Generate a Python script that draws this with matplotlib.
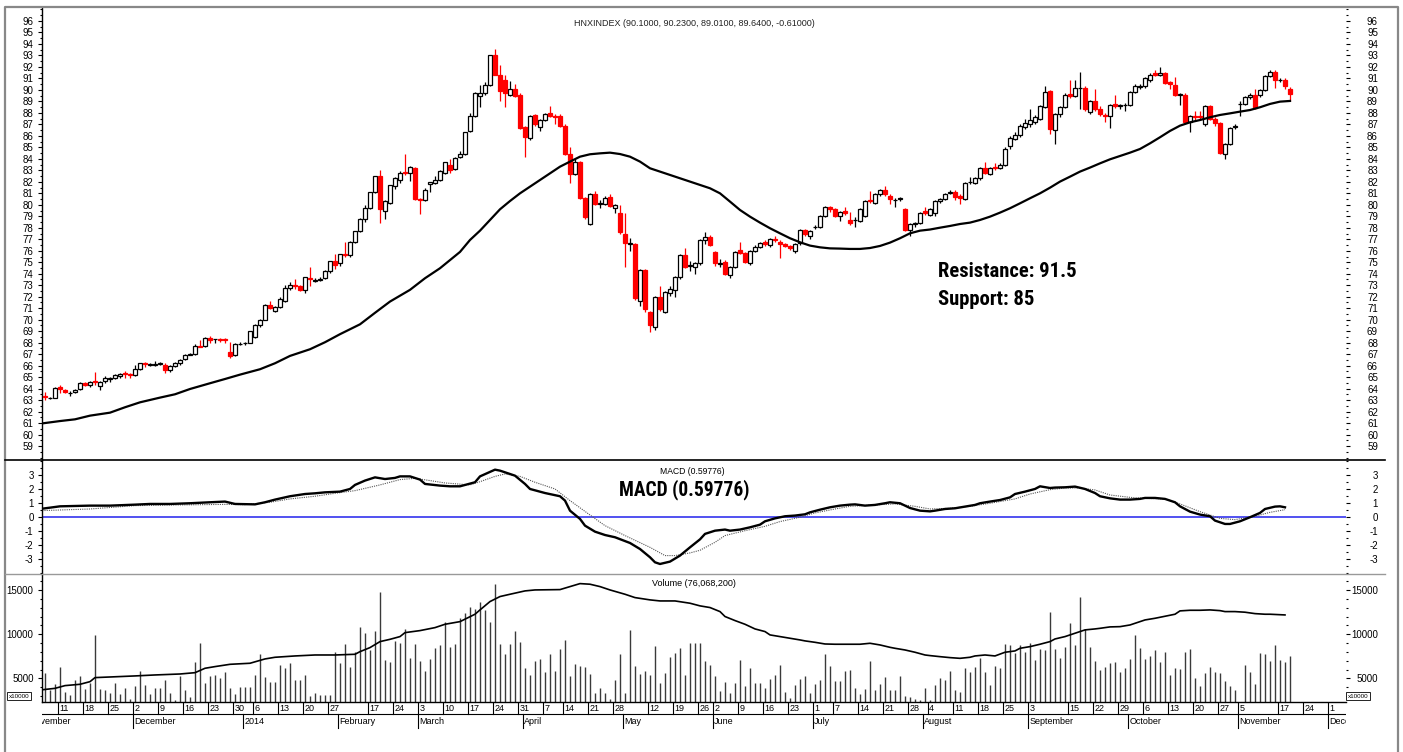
import numpy as np
import pandas as pd
import matplotlib
matplotlib.use('Agg')
import matplotlib.pyplot as plt
from matplotlib.lines import Line2D
from matplotlib.ticker import MultipleLocator, FixedLocator
from matplotlib import font_manager
from matplotlib.font_manager import FontProperties

# ---------------------------------------------------------------- data
title = 'HNXINDEX (90.1000, 90.2300, 89.0100, 89.6400, -0.61000)'
macd_title = 'MACD (0.59776)'
vol_title = 'Volume (76,068,200)'
notes = ['Resistance: 91.5', 'Support: 85']

# trading calendar (closed days and sessions missing from the feed)
cal_start, cal_end, last_day = '2013-11-01', '2014-12-05', '2014-11-19'
closed_days = ['2014-01-01', '2014-01-29', '2014-01-30', '2014-01-31',
               '2014-02-03', '2014-02-04', '2014-02-05', '2014-02-06',
               '2014-04-09', '2014-04-30', '2014-05-01', '2014-05-02',
               '2014-05-29', '2014-05-30', '2014-06-30', '2014-07-31',
               '2014-09-01', '2014-09-02', '2014-10-31',
               '2014-11-03', '2014-11-04']

week_dates = ['2013-11-11', '2013-11-18', '2013-11-25', '2013-12-02', '2013-12-09',
              '2013-12-16', '2013-12-23', '2013-12-30', '2014-01-06', '2014-01-13',
              '2014-01-20', '2014-01-27', '2014-02-17', '2014-02-24', '2014-03-03',
              '2014-03-10', '2014-03-17', '2014-03-24', '2014-03-31', '2014-04-07',
              '2014-04-14', '2014-04-21', '2014-04-28', '2014-05-12', '2014-05-19',
              '2014-05-26', '2014-06-02', '2014-06-09', '2014-06-16', '2014-06-23',
              '2014-07-01', '2014-07-07', '2014-07-14', '2014-07-21', '2014-07-28',
              '2014-08-04', '2014-08-11', '2014-08-18', '2014-08-25', '2014-09-03',
              '2014-09-15', '2014-09-22', '2014-09-29', '2014-10-06', '2014-10-13',
              '2014-10-20', '2014-10-27', '2014-11-05', '2014-11-17', '2014-11-24',
              '2014-12-01']
month_labels = ['November', 'December', '2014', 'February', 'March', 'April', 'May',
                'June', 'July', 'August', 'September', 'October', 'November', 'December']

opens = [
    63.35, 63.2, 63.2, 64.15, 63.9, 63.6, 63.7, 64.0, 64.5, 64.3,
    64.7, 64.2, 64.7, 64.85, 64.9, 65.1, 65.35, 65.25, 65.2, 65.75,
    66.25, 66.1, 66.1, 66.15, 66.1, 65.6, 66.0, 66.2, 66.6, 66.95,
    67.0, 67.75, 67.7, 68.45, 68.3, 68.35, 68.35, 67.2, 66.9, 67.88,
    67.95, 68.0, 68.5, 69.5, 70.0, 71.3, 70.8, 71.1, 71.6, 72.8,
    73.05, 72.9, 72.6, 73.65, 73.4, 73.45, 73.6, 74.2, 75.1, 74.9,
    75.75, 75.6, 76.8, 77.7, 78.8, 79.7, 81.1, 82.5, 79.5, 80.2,
    81.6, 82.2, 82.85, 82.8, 83.2, 80.5, 80.4, 81.85, 81.9, 82.2,
    82.8, 83.5, 83.1, 84.2, 84.4, 86.4, 87.7, 89.5, 89.7, 90.4,
    93.0, 91.3, 90.9, 89.6, 90.1, 89.6, 86.8, 85.8, 87.8, 86.8,
    87.4, 87.95, 87.75, 87.7, 86.9, 84.4, 82.7, 83.7, 80.6, 78.3,
    80.9, 80.1, 80.1, 80.7, 79.7, 79.3, 77.5, 76.6, 76.6, 71.6,
    74.3, 70.7, 69.4, 72.0, 70.7, 72.3, 72.6, 73.7, 75.6, 74.7,
    74.6, 74.9, 76.9, 77.2, 75.9, 74.85, 75.0, 73.9, 74.6, 76.05,
    75.8, 74.9, 76.0, 76.3, 76.75, 76.5, 77.05, 76.8, 76.55, 76.4,
    76.0, 76.7, 77.8, 77.3, 78.05, 78.1, 79.0, 79.8, 79.6, 79.0,
    79.5, 78.7, 78.65, 78.6, 79.0, 80.45, 80.2, 80.9, 81.3, 80.8,
    80.4, 80.5, 79.6, 77.8, 78.3, 78.4, 79.45, 79.1, 79.3, 80.3,
    80.5, 81.0, 81.1, 80.8, 80.5, 81.95, 81.9, 82.3, 83.2, 82.7,
    83.3, 83.2, 83.5, 85.1, 85.7, 86.1, 86.8, 87.0, 87.2, 87.5,
    88.5, 89.9, 86.5, 87.9, 88.5, 89.65, 89.5, 90.15, 90.2, 88.1,
    89.0, 88.3, 87.85, 87.7, 88.75, 88.6, 88.65, 88.7, 89.8, 90.25,
    90.3, 90.9, 91.45, 91.3, 91.5, 90.65, 90.4, 89.6, 89.6, 87.2,
    87.75, 87.75, 87.0, 88.6, 87.5, 87.1, 84.4, 85.3, 86.75, 88.75,
    88.8, 89.4, 89.6, 89.6, 90.0, 91.2, 91.6, 90.85, 90.9, 90.10]
highs = [
    63.7, 63.3, 64.15, 64.35, 64.0, 63.8, 63.95, 64.6, 64.6, 64.7,
    65.45, 64.7, 65.1, 65.0, 65.3, 65.4, 65.55, 65.35, 66.1, 66.25,
    66.3, 66.25, 66.4, 66.3, 66.2, 66.1, 66.3, 66.6, 67.0, 67.1,
    67.9, 68.2, 68.5, 68.55, 68.35, 68.4, 68.4, 68.1, 67.95, 68.05,
    68.1, 69.05, 69.6, 70.1, 71.35, 71.6, 71.2, 72.0, 73.0, 73.3,
    73.5, 73.0, 73.75, 74.6, 73.6, 73.75, 74.3, 75.15, 75.7, 75.75,
    76.8, 76.85, 77.75, 78.85, 80.0, 81.15, 82.55, 83.0, 80.45, 81.75,
    82.4, 82.9, 84.4, 83.4, 83.3, 80.6, 81.5, 82.0, 82.5, 83.0,
    83.75, 84.0, 84.15, 84.7, 86.35, 88.0, 89.8, 90.4, 90.7, 93.05,
    93.6, 92.2, 91.3, 90.8, 90.5, 89.7, 86.9, 87.8, 87.9, 87.5,
    88.0, 88.6, 87.9, 87.9, 87.0, 85.0, 84.0, 83.8, 80.7, 81.0,
    81.2, 80.4, 80.8, 80.9, 80.1, 80.0, 79.3, 77.1, 76.7, 74.4,
    74.4, 70.8, 72.1, 72.9, 72.5, 72.9, 73.8, 75.7, 76.2, 75.1,
    75.0, 77.0, 77.6, 77.4, 76.0, 75.3, 75.2, 74.7, 76.0, 76.8,
    75.9, 76.1, 76.5, 76.8, 76.9, 77.1, 77.3, 76.9, 76.7, 76.5,
    76.7, 77.9, 77.9, 77.8, 78.2, 79.1, 79.9, 79.9, 79.7, 79.5,
    79.8, 79.4, 78.9, 79.7, 80.4, 81.2, 81.0, 81.4, 81.6, 80.9,
    80.6, 80.7, 79.7, 78.4, 78.5, 79.4, 79.8, 79.7, 80.4, 80.6,
    81.0, 81.3, 81.3, 80.9, 82.0, 82.4, 82.4, 83.3, 83.7, 83.3,
    83.6, 83.6, 85.0, 86.0, 86.3, 87.0, 87.5, 88.3, 87.8, 88.7,
    90.3, 90.0, 88.0, 88.6, 89.7, 90.9, 90.9, 91.6, 90.3, 89.1,
    90.1, 88.6, 88.0, 88.8, 89.6, 88.8, 88.9, 89.9, 90.5, 90.5,
    91.1, 91.5, 91.7, 92.0, 91.6, 90.8, 91.1, 89.7, 89.7, 87.8,
    88.2, 88.2, 88.7, 88.7, 87.6, 87.2, 85.4, 86.8, 87.0, 89.0,
    89.5, 89.7, 90.1, 90.1, 91.3, 91.7, 91.7, 91.0, 91.0, 90.23]
lows = [
    63.0, 63.1, 63.15, 63.6, 63.6, 63.35, 63.6, 63.9, 64.2, 64.15,
    64.3, 63.9, 64.5, 64.6, 64.8, 64.9, 64.9, 64.95, 65.1, 65.65,
    65.9, 66.0, 65.95, 66.05, 65.4, 65.45, 65.9, 66.1, 66.5, 66.9,
    66.95, 67.6, 67.6, 68.0, 68.0, 68.1, 68.0, 66.7, 66.85, 67.8,
    67.8, 67.95, 68.45, 69.4, 69.95, 70.9, 70.7, 71.0, 71.5, 72.6,
    72.7, 72.5, 72.3, 72.9, 73.3, 73.4, 73.5, 74.1, 74.4, 74.7,
    75.5, 75.5, 76.7, 77.6, 78.5, 79.6, 81.0, 78.4, 78.8, 80.1,
    81.4, 81.9, 82.6, 82.1, 80.4, 79.2, 80.3, 81.1, 81.8, 82.1,
    82.7, 82.8, 83.0, 84.1, 84.3, 86.3, 87.6, 88.5, 89.6, 90.3,
    91.3, 89.0, 88.5, 89.5, 89.4, 86.6, 84.2, 85.6, 86.9, 86.4,
    87.3, 87.6, 87.0, 86.8, 84.3, 81.9, 82.6, 80.5, 78.8, 78.2,
    80.0, 79.7, 80.0, 79.8, 79.3, 77.5, 74.6, 76.0, 71.7, 71.2,
    70.7, 68.9, 69.1, 70.8, 70.6, 72.1, 72.0, 73.5, 74.5, 74.2,
    74.0, 74.8, 76.6, 76.4, 74.7, 74.6, 73.9, 73.6, 74.5, 75.7,
    74.9, 74.8, 75.9, 76.2, 76.4, 76.3, 76.8, 75.4, 76.3, 76.1,
    75.8, 76.5, 77.3, 77.0, 77.9, 78.0, 78.9, 79.4, 78.9, 78.6,
    79.1, 78.2, 78.1, 78.5, 78.9, 80.2, 80.1, 80.8, 80.8, 80.1,
    79.8, 80.3, 77.7, 77.3, 78.1, 78.3, 79.1, 79.0, 79.0, 80.2,
    80.4, 80.9, 80.4, 80.1, 80.4, 81.8, 81.8, 82.2, 82.7, 82.6,
    83.0, 83.1, 83.4, 84.9, 85.6, 85.9, 86.6, 86.8, 87.0, 87.4,
    88.4, 86.2, 85.3, 87.6, 88.4, 89.3, 89.4, 88.3, 88.2, 87.9,
    88.2, 87.7, 87.2, 86.7, 88.4, 88.3, 88.2, 88.6, 89.7, 90.1,
    90.2, 90.7, 91.2, 91.2, 90.5, 90.1, 89.5, 88.7, 87.1, 86.3,
    87.4, 87.4, 86.9, 87.4, 86.9, 84.4, 84.0, 85.2, 86.6, 87.7,
    88.7, 89.2, 88.3, 89.4, 89.9, 91.1, 90.2, 90.7, 90.1, 89.01]
closes = [
    63.25, 63.22, 64.1, 63.95, 63.75, 63.65, 63.9, 64.5, 64.35, 64.6,
    64.55, 64.6, 64.9, 64.9, 65.2, 65.3, 65.25, 65.15, 65.7, 66.2,
    66.15, 66.12, 66.13, 66.2, 65.6, 66.0, 66.2, 66.5, 66.9, 67.0,
    67.7, 67.65, 68.4, 68.2, 68.32, 68.25, 68.25, 66.85, 67.9, 67.92,
    68.0, 69.0, 69.5, 70.0, 71.3, 71.0, 71.1, 71.8, 72.8, 73.0,
    72.9, 72.6, 73.7, 73.55, 73.45, 73.55, 74.2, 75.1, 74.8, 75.7,
    75.6, 76.8, 77.7, 78.8, 79.7, 81.1, 82.5, 79.6, 80.3, 81.7,
    82.3, 82.8, 82.75, 83.25, 80.5, 80.4, 81.3, 81.95, 82.2, 82.9,
    83.7, 83.0, 84.1, 84.4, 86.3, 87.7, 89.7, 89.7, 90.4, 93.0,
    91.3, 89.9, 89.7, 90.1, 89.5, 86.7, 85.9, 87.7, 87.0, 87.4,
    87.9, 87.7, 87.65, 86.9, 84.4, 82.7, 83.7, 80.6, 78.9, 80.9,
    80.1, 80.12, 80.6, 79.9, 80.0, 77.6, 76.7, 76.65, 71.9, 74.3,
    70.9, 69.5, 72.0, 70.9, 72.4, 72.7, 73.7, 75.6, 74.6, 74.75,
    74.9, 76.9, 77.2, 76.5, 74.9, 74.9, 74.0, 74.6, 75.9, 75.8,
    75.0, 76.0, 76.3, 76.7, 76.6, 77.0, 76.95, 76.6, 76.45, 76.2,
    76.6, 77.8, 77.5, 77.7, 78.1, 79.0, 79.8, 79.6, 79.0, 79.4,
    79.3, 78.4, 78.7, 79.6, 80.3, 80.3, 80.9, 81.3, 80.9, 80.5,
    80.45, 80.55, 77.8, 78.3, 78.4, 79.3, 79.3, 79.6, 80.3, 80.5,
    80.9, 81.1, 80.7, 80.6, 81.9, 82.0, 82.3, 83.2, 82.8, 83.2,
    83.2, 83.5, 84.9, 85.8, 86.1, 86.9, 87.1, 87.4, 87.6, 88.6,
    89.8, 86.6, 87.9, 88.5, 89.6, 89.5, 90.2, 90.2, 88.3, 89.0,
    88.3, 87.9, 87.7, 88.7, 88.6, 88.65, 88.7, 89.8, 90.3, 90.35,
    91.0, 91.3, 91.3, 91.5, 90.6, 90.5, 89.6, 89.62, 87.2, 87.7,
    87.6, 87.6, 88.6, 87.5, 87.1, 84.5, 85.3, 86.7, 86.85, 88.8,
    89.4, 89.6, 88.4, 90.0, 91.2, 91.6, 90.9, 90.9, 90.3, 89.64]
volume = [  # x10000
    5570, 3670, 4320, 6290, 3480, 3100, 4770, 5270, 3790, 4430,
    9930, 3750, 3640, 3300, 4470, 3220, 3860, 2650, 4090, 5870,
    4240, 3220, 3860, 3860, 4770, 3300, 2540, 5270, 3670, 2880,
    6900, 8980, 4510, 5230, 5380, 5000, 5680, 3860, 3180, 4010,
    3980, 3980, 5380, 7770, 5150, 4620, 4620, 6520, 6140, 6710,
    4810, 4810, 5380, 3030, 3300, 3100, 3100, 3100, 7960, 6780,
    8900, 6290, 8030, 10870, 10120, 8220, 10380, 14780, 7080, 6820,
    9240, 8980, 10570, 7350, 8870, 6970, 5830, 7200, 8490, 8790,
    11370, 8520, 8900, 11820, 12390, 13150, 12880, 13720, 12770, 11400,
    15690, 8870, 7730, 8900, 10380, 9090, 6140, 5380, 6970, 7200,
    5720, 7730, 5830, 8340, 9360, 5300, 6590, 6440, 6330, 5490,
    3300, 3940, 3300, 2610, 4810, 7770, 3370, 10500, 6400, 5490,
    5830, 5380, 8680, 4510, 5570, 7460, 7840, 8410, 5380, 8980,
    8980, 8980, 6970, 6520, 5270, 3560, 4550, 3370, 4510, 7080,
    4130, 6140, 4510, 4510, 3860, 4890, 5380, 6520, 3410, 2730,
    4240, 4920, 5300, 3370, 4320, 4810, 7770, 6440, 4700, 4700,
    5830, 5950, 3860, 3220, 3750, 6970, 3670, 4320, 5190, 3670,
    3670, 5270, 3030, 2920, 2610, 2540, 3860, 2540, 4240, 5080,
    4810, 5830, 3670, 3480, 6210, 5760, 6330, 7350, 5680, 4240,
    6400, 6140, 8870, 8790, 7840, 8790, 8030, 8980, 7080, 8340,
    8220, 12500, 8300, 7350, 8600, 11250, 8790, 14290, 10570, 8600,
    6970, 5950, 6330, 6710, 6900, 5680, 6140, 7200, 9930, 8410,
    7200, 7540, 8220, 6820, 8030, 5380, 6140, 6060, 8030, 8300,
    5080, 4130, 5570, 6330, 5680, 5570, 4700, 4130, 3670, 2270,
    6520, 5760, 4320, 7880, 7730, 6970, 8790, 7080, 6820, 7580]

# moving average of the index, read at these bar numbers
ma_bar = ([-1, 3, 6, 9, 13, 16, 19, 23, 26, 29, 33, 36, 39, 43, 46, 49, 53, 56, 59, 63,
           66, 69, 73, 76, 79, 83] + list(range(85, 178, 2)) + list(range(179, 248, 2)) + [249])
ma_val = [60.95, 61.18, 61.33, 61.65, 61.91, 62.38, 62.81, 63.22, 63.51, 63.97, 64.47, 64.84,
          65.22, 65.69, 66.21, 66.85, 67.43, 68.04, 68.74, 69.6, 70.6, 71.58, 72.6, 73.61,
          74.48, 75.9,
          76.94, 77.75, 78.68, 79.61, 80.33, 81.0, 81.58, 82.16, 82.74, 83.32, 83.76, 84.19,
          84.4, 84.48, 84.54, 84.42, 84.19, 83.76, 83.18, 82.89, 82.6, 82.31, 82.02, 81.73,
          81.44, 81.0, 80.28, 79.55, 78.97, 78.45, 77.96, 77.52, 77.09, 76.74, 76.45, 76.3,
          76.21, 76.19, 76.16, 76.16, 76.24, 76.42, 76.71, 77.09, 77.52, 77.75, 77.85,
          78.01, 78.16, 78.33, 78.45, 78.68, 78.97, 79.32, 79.7, 80.13, 80.57, 81.0, 81.49,
          82.02, 82.45, 82.89, 83.24, 83.61, 83.96, 84.25, 84.54, 84.86, 85.35, 85.88, 86.43,
          86.89, 87.18, 87.38, 87.62, 87.82, 87.96, 88.11, 88.25, 88.49, 88.78, 88.98, 89.04]

macd_bar = [-1, 3, 9, 13, 18, 21, 25, 29, 33, 36, 38, 42, 44, 46, 49, 52, 54, 56, 59, 61,
            62, 64, 66, 68, 70, 71, 73, 75, 76, 79, 81, 83, 86, 87, 90, 91, 94, 96, 97, 100,
            103, 104, 105, 107, 108, 110, 112, 114, 117, 119, 121, 122, 123, 125, 127, 129,
            131, 132, 134, 136, 137, 139, 141, 143, 144, 146, 148, 150, 152, 153, 155, 157,
            159, 161, 162, 164, 166, 168, 169, 171, 173, 175, 177, 178, 180, 182, 184, 186,
            187, 189, 191, 193, 194, 196, 198, 199, 201, 202, 204, 206, 208, 210, 211, 213,
            215, 217, 219, 220, 222, 224, 226, 227, 229, 231, 233, 234, 236, 237, 239, 241,
            243, 244, 246, 247, 248]
macd_val = [0.57, 0.76, 0.81, 0.81, 0.88, 0.93, 0.93, 0.98, 1.05, 1.10, 0.93, 0.9, 1.05,
            1.24, 1.48, 1.64, 1.69, 1.76, 1.81, 2.0, 2.29, 2.6, 2.83, 2.71, 2.79, 2.9, 2.9,
            2.67, 2.36, 2.24, 2.19, 2.19, 2.48, 2.9, 3.38, 3.31, 2.95, 2.36, 2.0, 1.71, 1.48,
            1.17, 0.45, -0.14, -0.62, -1.05, -1.29, -1.45, -1.86, -2.29, -2.88, -3.24, -3.36,
            -3.19, -2.76, -2.17, -1.6, -1.21, -0.98, -0.9, -0.98, -0.9, -0.74, -0.55, -0.31,
            -0.1, 0.05, 0.1, 0.19, 0.33, 0.52, 0.69, 0.81, 0.88, 0.9, 0.81, 0.86, 0.98, 1.05,
            0.98, 0.64, 0.45, 0.4, 0.45, 0.57, 0.62, 0.74, 0.86, 0.98, 1.1, 1.21, 1.4, 1.64,
            1.81, 2.0, 2.19, 2.07, 2.1, 2.12, 2.17, 2.0, 1.71, 1.48, 1.33, 1.24, 1.24, 1.29,
            1.36, 1.36, 1.29, 1.05, 0.76, 0.38, 0.17, 0.05, -0.26, -0.5, -0.5, -0.31, -0.02,
            0.29, 0.57, 0.74, 0.76, 0.69]
signal_bar = [-1, 9, 18, 27, 36, 40, 45, 49, 54, 58, 62, 67, 71, 74, 77, 80, 85, 87, 90, 92,
              95, 98, 102, 105, 109, 112, 116, 121, 124, 126, 129, 131, 134, 136, 140, 144,
              147, 151, 154, 158, 161, 167, 170, 174, 177, 181, 185, 189, 194, 197, 201, 204,
              207, 210, 213, 217, 220, 224, 227, 231, 235, 238, 242, 245, 248]
signal_val = [0.45, 0.57, 0.81, 0.86, 0.9, 0.88, 1.05, 1.29, 1.48, 1.69, 1.88, 2.29, 2.67,
              2.76, 2.6, 2.43, 2.29, 2.52, 2.9, 3.07, 2.9, 2.48, 2.0, 1.17, 0.14, -0.62, -1.33,
              -2.17, -2.76, -2.76, -2.57, -2.38, -1.81, -1.33, -0.98, -0.67, -0.33, -0.02, 0.29,
              0.57, 0.76, 0.88, 0.93, 0.76, 0.57, 0.62, 0.76, 0.98, 1.29, 1.64, 1.95, 2.07,
              2.07, 1.93, 1.57, 1.4, 1.33, 1.29, 0.93, 0.38, -0.1, -0.19, 0.05, 0.33, 0.52]

vma_bar = [-1, 2, 4, 7, 9, 10, 13, 18, 22, 27, 30, 32, 34, 37, 41, 44, 46, 50, 54, 58, 62,
           63, 65, 67, 69, 71, 72, 75, 78, 80, 83, 86, 87, 89, 91, 93, 96, 98, 103, 105, 107,
           109, 111, 113, 116, 118, 121, 123, 126, 129, 131, 133, 135, 136, 138, 140, 142,
           144, 145, 147, 149, 151, 152, 154, 156, 158, 161, 163, 165, 167, 169, 170, 172,
           174, 176, 177, 179, 181, 183, 185, 186, 188, 190, 192, 194, 195, 197, 199, 201,
           202, 204, 206, 208, 210, 211, 213, 215, 217, 219, 220, 222, 224, 226, 227, 229,
           231, 233, 235, 236, 238, 240, 242, 244, 245, 248]
vma_val = [3670, 3860, 4170, 4320, 4620, 5080, 5150, 5270, 5380, 5490, 5640, 6140, 6330,
           6590, 6710, 7200, 7390, 7540, 7650, 7650, 7730, 8030, 8490, 9170, 9430, 9740,
           10190, 10420, 10760, 11140, 11440, 12280, 12770, 13720, 14290, 14550, 14930,
           15040, 15080, 15420, 15760, 15690, 15420, 15040, 14550, 14170, 13910, 13790,
           13790, 13530, 13230, 13040, 12580, 12020, 11560, 11140, 10610, 10310, 9930, 9740,
           9550, 9360, 9250, 9090, 8900, 8870, 8870, 8870, 8980, 8790, 8520, 8410, 8220,
           7960, 7650, 7580, 7460, 7350, 7270, 7390, 7540, 7650, 7540, 7960, 8110, 8410,
           8600, 8870, 9170, 9470, 9740, 10120, 10500, 10610, 10680, 10840, 10870, 11060,
           11440, 11630, 11820, 12050, 12280, 12660, 12730, 12730, 12770, 12690, 12580,
           12580, 12510, 12350, 12280, 12280, 12200]

assert len(opens) == len(highs) == len(lows) == len(closes) == len(volume) == 250
assert len(ma_bar) == len(ma_val) and len(macd_bar) == len(macd_val)
assert len(signal_bar) == len(signal_val) and len(vma_bar) == len(vma_val)

# ---------------------------------------------------------------- fonts
plt.rcParams['font.family'] = ['Liberation Sans', 'DejaVu Sans']
plt.rcParams['axes.unicode_minus'] = False


def condensed_bold():
    pref = ['Liberation Sans Narrow', 'Arial Narrow', 'Roboto Condensed', 'Noto Sans',
            'Open Sans', 'Roboto', 'DejaVu Sans']
    found = []
    for f in font_manager.fontManager.ttflist:
        w = f.weight if isinstance(f.weight, int) else font_manager.weight_dict.get(f.weight, 400)
        if f.stretch == 'condensed' and f.style == 'normal' and 600 <= w <= 800:
            name = f.fname.lower()
            rank = pref.index(f.name) if f.name in pref else len(pref)
            found.append((rank, 'semi' in name, 'extra' in name or 'ultra' in name, f.fname))
    if found:
        return FontProperties(fname=sorted(found)[0][3])
    return FontProperties(family='Liberation Sans', weight='bold')


big_font = condensed_bold()

# ---------------------------------------------------------------- layout
W, H = 1403, 752
fig = plt.figure(figsize=(W / 100, H / 100), dpi=100)


def rect(x0, y0, x1, y1):
    return [x0 / W, 1 - y1 / H, (x1 - x0) / W, (y1 - y0) / H]


def fig_line(xs, ys, **kw):
    fig.add_artist(Line2D([x / W for x in xs], [1 - y / H for y in ys],
                          transform=fig.transFigure, **kw))


L, R = 42, 1346
X0, X1 = -0.6, 260.2

ax_p = fig.add_axes(rect(L, 8, R, 460))
ax_m = fig.add_axes(rect(L, 460, R, 573.5))
ax_v = fig.add_axes(rect(L, 573.5, R, 702))
ax_d = fig.add_axes(rect(L, 702, R, 732))


def style(ax, ticks, minor, lim):
    ax.set_xlim(X0, X1)
    ax.set_ylim(*lim)
    ax.set_xticks([])
    ax.patch.set_visible(False)
    for s in ['top', 'right', 'bottom']:
        ax.spines[s].set_visible(False)
    ax.spines['left'].set_linewidth(1.0)
    axr = ax.twinx()
    axr.set_ylim(*lim)
    for s in axr.spines.values():
        s.set_visible(False)
    for a, pad in ((ax, 3), (axr, 20)):
        a.yaxis.set_major_locator(FixedLocator(ticks))
        a.yaxis.set_minor_locator(MultipleLocator(minor))
        a.tick_params(axis='y', which='major', length=3, width=0.8, pad=pad,
                      labelsize=7, colors='black')
        a.tick_params(axis='y', which='minor', length=1.5, width=0.8)
    for t in axr.get_yticklabels():
        t.set_horizontalalignment('right')
    return axr


style(ax_p, list(range(59, 97)), 0.5, (57.79, 97.13))
style(ax_m, [-3, -2, -1, 0, 1, 2, 3], 0.5, (-4.04, 4.07))
style(ax_v, [5000, 10000, 15000], 1000, (2308, 16908))
ax_v.spines['bottom'].set_visible(True)
ax_v.spines['bottom'].set_linewidth(1.0)

# ---------------------------------------------------------------- candles
idx = np.arange(len(closes))
o, h, l, c = (np.array(a) for a in (opens, highs, lows, closes))
up = c >= o
for mask, face, edge in ((up, 'white', 'black'), (~up, 'red', 'red')):
    ax_p.vlines(idx[mask], l[mask], h[mask], color=edge, lw=0.9, zorder=2)
    ax_p.bar(idx[mask], np.abs(c - o)[mask], bottom=np.minimum(o, c)[mask],
             width=0.7, color=face, edgecolor=edge, lw=0.9, zorder=3)
ax_p.plot(ma_bar, ma_val, color='black', lw=1.6, zorder=4, solid_joinstyle='round')

# ---------------------------------------------------------------- MACD
ax_m.axhline(0, color='#3333ee', lw=1.2, zorder=1)
ax_m.plot(signal_bar, signal_val, color='#555555', lw=0.8, ls=(0, (1, 1)), zorder=2)
ax_m.plot(macd_bar, macd_val, color='black', lw=1.7, zorder=3, solid_joinstyle='round')

# ---------------------------------------------------------------- volume
ax_v.vlines(idx, 2308, volume, color='#3a3a3a', lw=1.0)
ax_v.plot(vma_bar, vma_val, color='black', lw=1.2, solid_joinstyle='round')

# ---------------------------------------------------------------- date axis
cal = pd.bdate_range(cal_start, cal_end)
cal = cal[~cal.isin(pd.to_datetime(closed_days))]
offset = cal.get_loc(pd.Timestamp(last_day)) - (len(closes) - 1)


def xpos(d):
    return cal.get_loc(pd.Timestamp(d)) - offset


ax_d.set_xlim(X0, X1)
ax_d.set_ylim(30, 0)
ax_d.axis('off')
ax_d.plot([X0, X1], [12, 12], color='black', lw=0.8)
for d in week_dates:
    x = xpos(d) - 0.5
    ax_d.plot([x, x], [0, 12], color='black', lw=0.8)
    ax_d.text(x + 0.35, 6.3, str(pd.Timestamp(d).day), fontsize=6.5,
              ha='left', va='center', clip_on=True)
firsts = pd.Series(cal, index=cal).groupby(cal.to_period('M')).first()
for d, lab in zip(firsts.values, month_labels):
    x = xpos(d) - 0.5
    ax_d.plot([x, x], [12, 26], color='black', lw=0.8)
    ax_d.text(x + 0.35, 20, lab, fontsize=6.5, ha='left', va='center', clip_on=True)

# ---------------------------------------------------------------- texts
fig.text(694 / W, 1 - 24 / H, title, fontsize=6.5, ha='center', va='center', color='#222222')
t_res = fig.text(938 / W, 1 - 277 / H, notes[0], fontproperties=big_font, fontsize=16,
                 ha='left', va='baseline')
t_sup = fig.text(938 / W, 1 - 305 / H, notes[1], fontproperties=big_font, fontsize=16,
                 ha='left', va='baseline')
t_mac = fig.text(619 / W, 1 - 495 / H, macd_title, fontproperties=big_font, fontsize=16,
                 ha='left', va='baseline')
fig.text(660 / W, 1 - 471 / H, macd_title, fontsize=6.2, ha='left', va='center')
fig.text(652 / W, 1 - 584 / H, vol_title, fontsize=6.5, ha='left', va='center')
box = dict(boxstyle='square,pad=0.25', fc='white', ec='black', lw=0.6)
fig.text(19 / W, 1 - 696 / H, 'x10000', fontsize=4.5, ha='center', va='center', bbox=box)
fig.text(1358 / W, 1 - 696 / H, 'x10000', fontsize=4.5, ha='center', va='center', bbox=box)

# fit the large labels to the width they take in the original
fig.canvas.draw()
rnd = fig.canvas.get_renderer()
s_res = min(17.0, 16 * 139 / t_res.get_window_extent(rnd).width)
s_mac = min(17.0, 16 * 131 / t_mac.get_window_extent(rnd).width)
t_res.set_fontsize(s_res)
t_sup.set_fontsize(s_res)
t_mac.set_fontsize(s_mac)

# frame and panel separators
fig_line([4.5, 4.5, 1397.5, 1397.5], [752, 6.5, 6.5, 752], color='#888888', lw=1.6)
fig_line([5, 1385], [460, 460], color='black', lw=1.2)
fig_line([5, 1385], [573.5, 573.5], color='#999999', lw=1.0)

fig.savefig('out.png', dpi=100)
